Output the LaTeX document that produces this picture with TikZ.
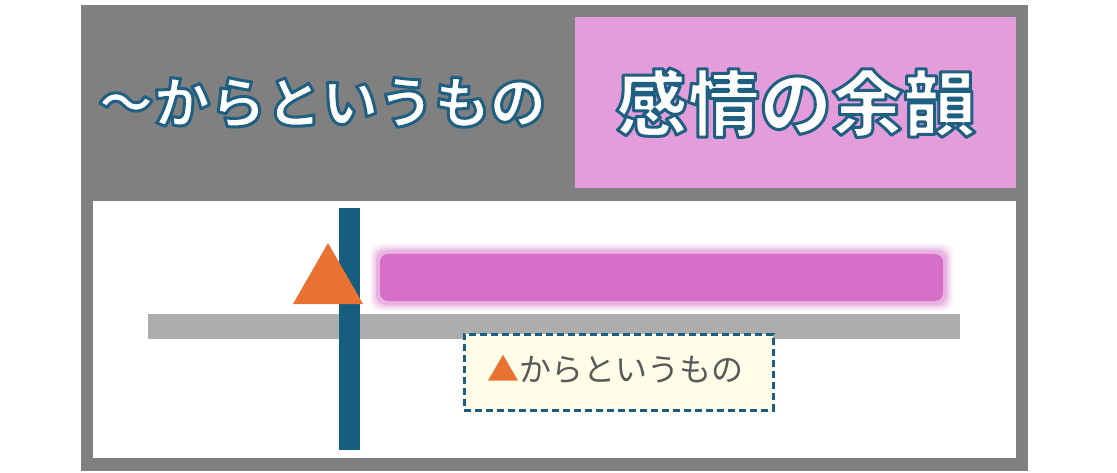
\documentclass[tikz,border=0pt]{standalone}
\usepackage{fontspec}
\newfontfamily\cjk{Noto Sans CJK JP}
\definecolor{framegray}{HTML}{808080}
\definecolor{headpink}{HTML}{E29DDA}
\definecolor{barblue}{HTML}{155E7F}
\definecolor{triorange}{HTML}{E97132}
\definecolor{bargray}{HTML}{ADADAD}
\definecolor{blurpink}{HTML}{D66FC8}
\definecolor{notefill}{HTML}{FEFEE8}
\definecolor{noteedge}{HTML}{1B5E83}
\definecolor{textgray}{HTML}{595959}
% white text with a dark blue outline (text render mode 2: fill then stroke)
\newcommand{\outlinedtext}[1]{\textcolor{white}{\special{pdf:literal direct q 2 Tr 3 w 1 j 0.122 0.373 0.510 RG}#1\special{pdf:literal direct Q}}}
\tikzset{
  titletext/.style={inner sep=0pt},
  notebox/.style={fill=notefill, draw=noteedge, line width=2.8pt, dash pattern=on 7pt off 4pt},
}
\begin{document}
\begin{tikzpicture}[x=1pt,y=-1pt]
\useasboundingbox (0,0) rectangle (1117,473);
\fill[white] (0,0) rectangle (1117,473);
% frame
\fill[framegray] (81,5) rectangle (1028,471);
\node[fill=headpink, minimum width=441pt, minimum height=171pt, inner sep=0pt, anchor=north west] (pinkbox) at (575,17) {};
\node[fill=white, minimum width=923pt, minimum height=257pt, inner sep=0pt, anchor=north west] (panel) at (93,201) {};
% titles
\node[titletext, font=\cjk\bfseries\fontsize{56}{60}\selectfont] (title) at (322,103) {\outlinedtext{～からというもの}};
\node[titletext, font=\cjk\bfseries\fontsize{72}{76}\selectfont] (subject) at (pinkbox.center) {\outlinedtext{感情の余韻}};
% horizontal gray bar
\fill[bargray] (148,314) rectangle (960,339);
% vertical blue bar
\fill[barblue] (339,208) rectangle (360,450);
% orange triangle
\fill[triorange] (328,243) -- (363,304) -- (293,304) -- cycle;
% blurred pink bar
\foreach \i/\o in {8/0.08,6/0.12,4/0.18,2/0.28}{
  \fill[blurpink, opacity=\o, rounded corners=10pt] (378-\i,252-\i) rectangle (945+\i,303+\i);
}
\fill[blurpink, rounded corners=8pt] (380,254) rectangle (943,301);
% note box
\node[notebox, minimum width=309pt, minimum height=76pt, inner sep=0pt, anchor=north west] (note) at (463,333) {};
\node[inner sep=0pt, font=\cjk\fontsize{32}{36}\selectfont, text=textgray] (notetext) at ([xshift=-3pt,yshift=3pt]note.center) {\textcolor{triorange}{▲}からというもの};
\end{tikzpicture}
\end{document}
